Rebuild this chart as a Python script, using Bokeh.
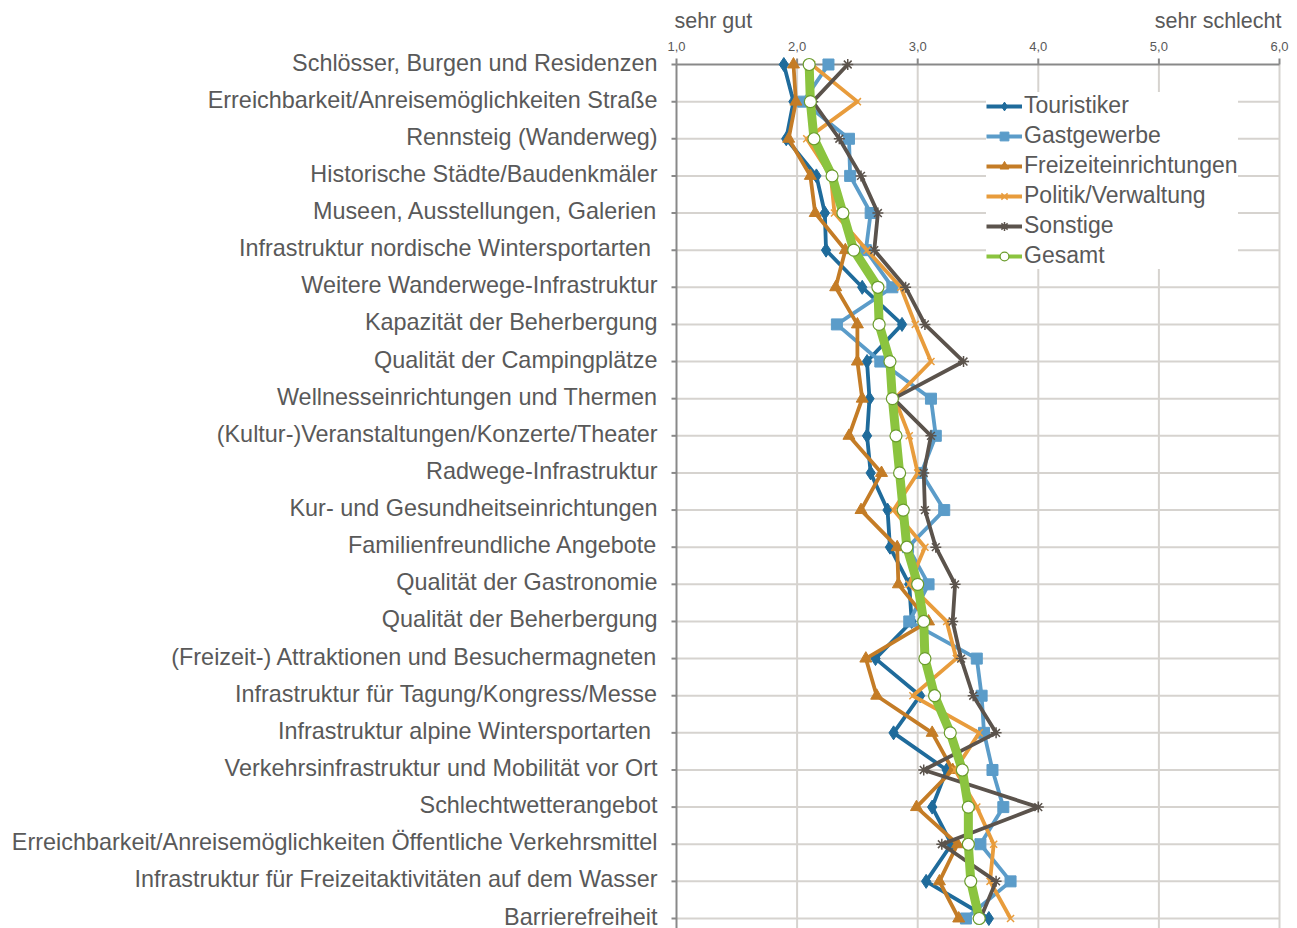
from bokeh.plotting import figure
from bokeh.models import Range1d, Legend, LegendItem
from bokeh.core.properties import value
from bokeh.embed import file_html
from bokeh.resources import INLINE

categories = [
    "Schlösser, Burgen und Residenzen",
    "Erreichbarkeit/Anreisemöglichkeiten Straße",
    "Rennsteig (Wanderweg)",
    "Historische Städte/Baudenkmäler",
    "Museen, Ausstellungen, Galerien",
    "Infrastruktur  nordische Wintersportarten",
    "Weitere Wanderwege-Infrastruktur",
    "Kapazität der Beherbergung",
    "Qualität der Campingplätze",
    "Wellnesseinrichtungen und Thermen",
    "(Kultur-)Veranstaltungen/Konzerte/Theater",
    "Radwege-Infrastruktur",
    "Kur- und Gesundheitseinrichtungen",
    "Familienfreundliche Angebote",
    "Qualität der Gastronomie",
    "Qualität der Beherbergung",
    "(Freizeit-) Attraktionen und Besuchermagneten",
    "Infrastruktur für Tagung/Kongress/Messe",
    "Infrastruktur  alpine Wintersportarten",
    "Verkehrsinfrastruktur und Mobilität vor Ort",
    "Schlechtwetterangebot",
    "Erreichbarkeit/Anreisemöglichkeiten Öffentliche Verkehrsmittel",
    "Infrastruktur für Freizeitaktivitäten auf dem Wasser",
    "Barrierefreiheit",
]

touristiker = [1.89, 1.97, 1.91, 2.16, 2.23, 2.24, 2.54, 2.87, 2.58, 2.60, 2.58, 2.61,
               2.75, 2.77, 2.93, 2.95, 2.65, 3.02, 2.80, 3.24, 3.12, 3.28, 3.07, 3.59]
gastgewerbe = [2.26, 2.05, 2.43, 2.44, 2.61, 2.57, 2.79, 2.33, 2.69, 3.11, 3.15, 3.03,
               3.22, 2.92, 3.09, 2.93, 3.49, 3.53, 3.55, 3.62, 3.71, 3.52, 3.77, 3.40]
freizeit = [1.97, 1.99, 1.93, 2.11, 2.15, 2.40, 2.32, 2.50, 2.50, 2.54, 2.43, 2.70,
            2.53, 2.83, 2.84, 3.09, 2.57, 2.66, 3.12, 3.29, 2.99, 3.33, 3.18, 3.34]
politik = [2.12, 2.50, 2.08, 2.28, 2.31, 2.58, 2.86, 2.98, 3.11, 2.81, 2.93, 3.00,
           2.80, 3.06, 2.93, 3.24, 3.32, 2.96, 3.51, 3.31, 3.49, 3.63, 3.60, 3.77]
sonstige = [2.42, 2.13, 2.35, 2.53, 2.67, 2.64, 2.90, 3.06, 3.38, 2.80, 3.11, 3.05,
            3.06, 3.15, 3.31, 3.29, 3.36, 3.46, 3.65, 3.05, 4.00, 3.20, 3.65, 3.52]
gesamt = [2.10, 2.11, 2.14, 2.29, 2.38, 2.47, 2.67, 2.68, 2.77, 2.79, 2.82, 2.85,
          2.88, 2.91, 3.00, 3.05, 3.06, 3.14, 3.27, 3.37, 3.42, 3.42, 3.44, 3.51]

x_ticks = [1, 2, 3, 4, 5, 6]
x_tick_labels = ["1,0", "2,0", "3,0", "4,0", "5,0", "6,0"]
scale_left = "sehr gut"
scale_right = "sehr schlecht"

FONT = value("Liberation Sans")
TEXT = "#595959"
AXIS = "#898989"
GRID = "#d6d3cf"

rows = list(range(len(categories)))
XMIN, XMAX = x_ticks[0], x_ticks[-1]
LAST = rows[-1]

# layout geometry (pixels)
W, H = 1297, 928
PLOT_L, PLOT_R = 676, 1279      # pixel position of XMIN / XMAX
PLOT_T, PLOT_B = 64, 918        # pixel position of first / last row
PXU = (PLOT_R - PLOT_L) / (XMAX - XMIN)
PYU = (PLOT_B - PLOT_T) / LAST

x0 = XMIN - PLOT_L / PXU
x1 = XMAX + (W - PLOT_R) / PXU
y_top = 0 - PLOT_T / PYU
y_bot = LAST + (H - PLOT_B) / PYU

p = figure(width=W, height=H, output_backend="svg", toolbar_location=None,
           x_range=Range1d(x0, x1), y_range=Range1d(y_bot, y_top),
           x_axis_location=None, y_axis_location=None,
           min_border_left=0, min_border_right=0, min_border_top=0, min_border_bottom=0)
p.outline_line_color = None
p.background_fill_color = "white"
p.grid.visible = False

# gridlines (vertical at value ticks, horizontal at every category)
p.segment(x0=x_ticks[1:], y0=0, x1=x_ticks[1:], y1=y_bot, line_color=GRID, line_width=2)
p.segment(x0=XMIN, y0=rows[1:], x1=XMAX, y1=rows[1:], line_color=GRID, line_width=2)
# left axis line + outward ticks
p.segment(x0=[XMIN], y0=0, x1=[XMIN], y1=y_bot, line_color=AXIS, line_width=2)
p.segment(x0=XMIN - 5 / PXU, y0=rows, x1=XMIN, y1=rows, line_color=AXIS, line_width=2)
# top axis line + outward ticks
p.segment(x0=[XMIN], y0=0, x1=[XMAX], y1=0, line_color=AXIS, line_width=2)
p.segment(x0=x_ticks, y0=0, x1=x_ticks, y1=-6 / PYU, line_color=AXIS, line_width=2)

# category labels
p.text(x=[XMIN] * len(rows), y=rows, text=categories, x_offset=-19, y_offset=-2,
       text_align="right", text_baseline="middle", text_font=FONT,
       text_font_size="23.4px", text_color=TEXT)
# tick labels
p.text(x=x_ticks, y=[-18 / PYU] * len(x_ticks), text=x_tick_labels,
       text_align="center", text_baseline="middle", text_font=FONT,
       text_font_size="13px", text_color=TEXT)
# scale end captions
p.text(x=[XMIN], y=[-44 / PYU], text=[scale_left], x_offset=-2,
       text_align="left", text_baseline="middle", text_font=FONT,
       text_font_size="21.5px", text_color=TEXT)
p.text(x=[XMAX], y=[-44 / PYU], text=[scale_right], x_offset=2,
       text_align="right", text_baseline="middle", text_font=FONT,
       text_font_size="21.5px", text_color=TEXT)

series = [
    ("Touristiker", touristiker, "#1f6b9b", "diamond", 14),
    ("Gastgewerbe", gastgewerbe, "#5b9cc9", "square", 11),
    ("Freizeiteinrichtungen", freizeit, "#c47c26", "triangle", 12),
    ("Politik/Verwaltung", politik, "#e89c3c", "x", 10),
    ("Sonstige", sonstige, "#5b534c", "asterisk", 11),
]

items = []
for name, vals, col, mk, sz in series:
    l = p.line(vals, rows, line_color=col, line_width=3.8, line_join="round")
    if mk in ("x", "asterisk"):
        s = p.scatter(vals, rows, marker=mk, size=sz, line_color=col, line_width=1.5)
    else:
        s = p.scatter(vals, rows, marker=mk, size=sz, fill_color=col, line_color=col)
    items.append(LegendItem(label=name, renderers=[l, s]))

GREEN = "#8bc43f"
lg_thin = p.line(gesamt, rows, line_color=GREEN, line_width=4)
lg = p.line(gesamt, rows, line_color=GREEN, line_width=9, line_join="round")
sg = p.scatter(gesamt, rows, marker="circle", size=12, fill_color="white",
               line_color="#6a9c2c", line_width=1.2)
items.append(LegendItem(label="Gesamt", renderers=[lg_thin, sg]))

legend = Legend(items=items, location=(986, 659), margin=0, padding=4,
                label_text_font="Liberation Sans", label_text_font_size="23px",
                label_text_color=TEXT,
                glyph_width=36, glyph_height=22, label_height=22, spacing=3,
                label_standoff=2, background_fill_color="white", background_fill_alpha=1,
                border_line_color=None)
p.add_layout(legend)

open("out.html", "w").write(file_html(p, INLINE))
